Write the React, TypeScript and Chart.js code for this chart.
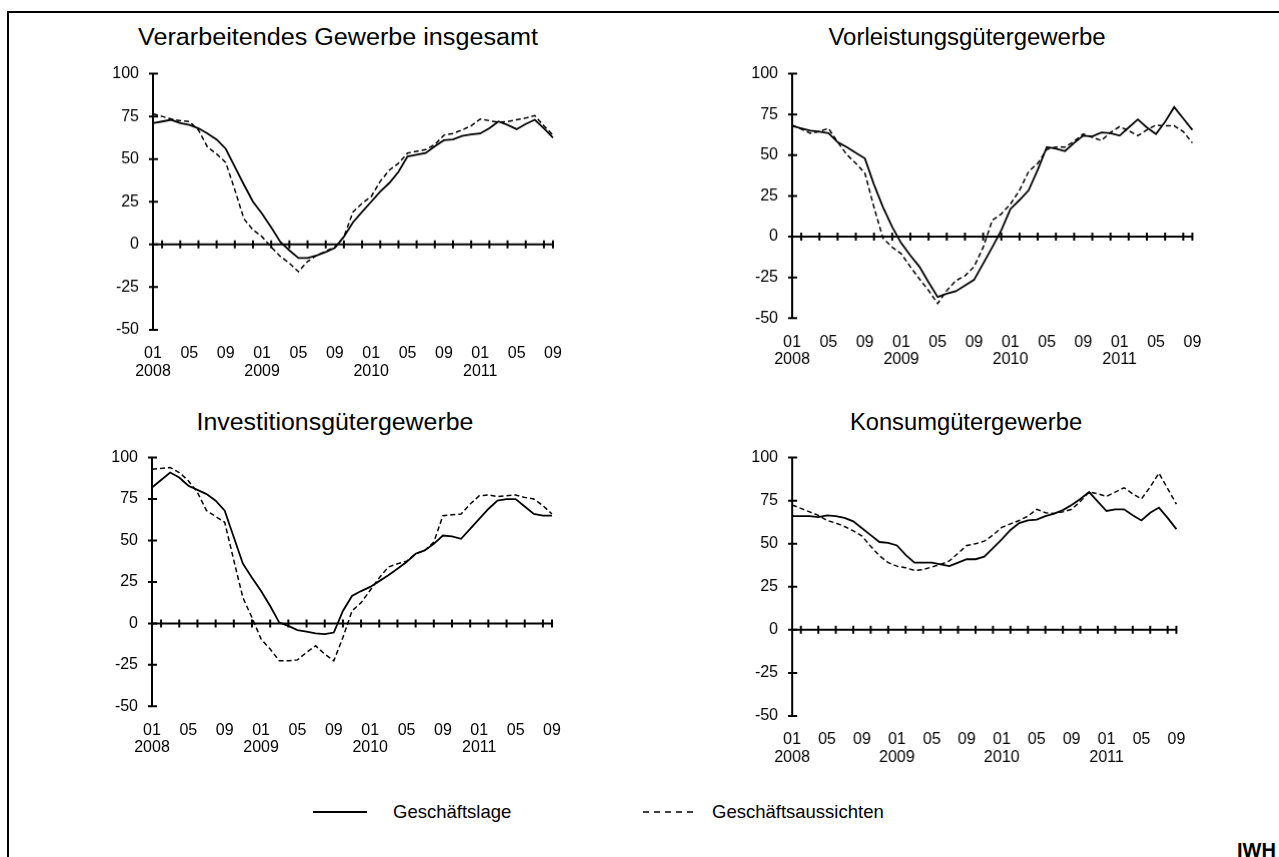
import React, { useEffect, useRef } from "react";
import { Chart, registerables } from "chart.js";

Chart.register(...registerables);

const FONT = "'Liberation Sans', Arial, sans-serif";

// Monthly periods 01/2008 – 09/2011
const periods: string[] = [
  "2008-01", "2008-02", "2008-03", "2008-04", "2008-05", "2008-06", "2008-07", "2008-08", "2008-09", "2008-10", "2008-11", "2008-12",
  "2009-01", "2009-02", "2009-03", "2009-04", "2009-05", "2009-06", "2009-07", "2009-08", "2009-09", "2009-10", "2009-11", "2009-12",
  "2010-01", "2010-02", "2010-03", "2010-04", "2010-05", "2010-06", "2010-07", "2010-08", "2010-09", "2010-10", "2010-11", "2010-12",
  "2011-01", "2011-02", "2011-03", "2011-04", "2011-05", "2011-06", "2011-07", "2011-08", "2011-09",
];
const labelledMonths = ["01", "05", "09"];
const yTickValues = [-50, -25, 0, 25, 50, 75, 100];

const seriesNames = ["Geschäftslage", "Geschäftsaussichten"];
const panelTitles = [
  "Verarbeitendes Gewerbe insgesamt",
  "Vorleistungsgütergewerbe",
  "Investitionsgütergewerbe",
  "Konsumgütergewerbe",
];

// Verarbeitendes Gewerbe insgesamt
const gesamtLage = [71, 72, 73, 71, 70, 68, 65, 61.5, 56, 45.5, 35, 25, 18, 10, 1.5, -3.5, -8, -8, -6.5, -4.5, -2, 4.5, 13, 19, 25, 31, 36, 42.5, 51.5, 52.5, 53.5, 57.5, 61, 61.5, 63.5, 64.5, 65, 68, 72, 70, 67.5, 70.5, 73, 68, 62.5];
const gesamtAussichten = [76.5, 75, 73.5, 72.5, 72, 67, 57, 53, 48, 32, 15, 8.5, 4.5, -1.5, -7, -11, -16, -10, -6.5, -4, -1.5, 4.5, 19, 24, 28, 37, 43.5, 47.5, 53.5, 54.5, 55.5, 58.5, 64, 65, 67, 69.5, 73.5, 72.5, 71.5, 72, 73, 74, 75.5, 69.5, 64];

// Vorleistungsgütergewerbe
const vorleistungLage = [68, 66.5, 65, 64.5, 63.5, 58, 55, 51.5, 48, 32, 18, 6, -4, -11.5, -18.5, -28, -37, -35, -33.5, -30, -26.5, -16.5, -6.5, 4, 17, 22.5, 28.5, 41, 55, 54, 52.5, 57.5, 62, 61.5, 64, 63.5, 62, 67, 72, 67, 63, 70.5, 79.5, 72.5, 65.5];
const vorleistungAussichten = [68.5, 66, 63.5, 64.5, 66.5, 58, 50.5, 45, 39, 18, -1, -6.5, -10.5, -18.5, -26, -33, -41, -33, -27, -24, -18.5, -6.5, 10, 14, 20, 28.5, 40, 45, 53.5, 55, 55, 58.5, 63, 61, 59, 64, 67.5, 65, 62, 65.5, 68.5, 68, 68, 64.5, 57.5];

// Investitionsgütergewerbe
const investitionLage = [82, 86.5, 91, 88, 83, 80.5, 78, 74, 68, 52, 36, 27.5, 19.5, 10.5, 0.5, -1.5, -4, -5, -6, -6.5, -5.5, 7.5, 16.5, 19.5, 22, 25.5, 29, 33, 37, 42, 44, 48, 53, 52.5, 51, 57, 63, 69, 74, 75, 75, 70.5, 66, 65, 65];
const investitionAussichten = [93, 93.5, 94, 91, 86, 79, 68, 64.5, 61, 38, 15.5, 3.5, -9.5, -15.5, -22.5, -22.5, -22, -17.5, -13.5, -18.5, -22.5, -8.5, 7.5, 12.5, 20, 27.5, 34, 36, 37.5, 42, 44, 49, 65, 65.5, 66, 72, 77, 77.5, 76.5, 77, 77.5, 76, 75, 71, 66];

// Konsumgütergewerbe
const konsumLage = [66, 66, 66, 65.5, 66.5, 66, 65, 63, 59, 55, 51, 50.5, 49, 43.5, 39, 39, 39, 38, 37, 39, 41, 41, 42.5, 47.5, 52.5, 58, 62, 63.5, 64, 66, 67.5, 69.5, 72.5, 76, 80, 74.5, 69, 70, 70, 66.5, 63.5, 68, 71, 65, 58.5];
const konsumAussichten = [72.5, 70.5, 68.5, 66.5, 63.5, 62, 60, 57.5, 54.5, 48.5, 43, 39, 37, 36, 34.5, 35, 36.5, 38, 40, 44.5, 49, 50, 51.5, 55, 59.5, 61.5, 63.5, 66, 70, 68, 67.5, 68.5, 70, 74.5, 80, 79, 77.5, 80, 82.5, 79, 76, 83, 91, 82, 73];

type Layout = { axisX: number; endX: number; top: number; bottom: number; titleCx: number; titleBase: number; titleScale: number };

const layouts: Layout[] = [
  { axisX: 153.3, endX: 553.3, top: 74, bottom: 329.3, titleCx: 338.3, titleBase: 46, titleScale: 1.07 },
  { axisX: 792.3, endX: 1191.7, top: 74, bottom: 317.7, titleCx: 966.7, titleBase: 46, titleScale: 1.02 },
  { axisX: 152.3, endX: 552.3, top: 457.3, bottom: 706, titleCx: 335, titleBase: 430.7, titleScale: 1.06 },
  { axisX: 792.3, endX: 1175.7, top: 457.3, bottom: 715.7, titleCx: 965.8, titleBase: 430.7, titleScale: 1.01 },
];

const panelData: [number[], number[]][] = [
  [gesamtLage, gesamtAussichten],
  [vorleistungLage, vorleistungAussichten],
  [investitionLage, investitionAussichten],
  [konsumLage, konsumAussichten],
];

const Y_AXIS_W = 60;
const X_AXIS_H = 55;
const TICK_FONT = 16;
const Y_TICK_PAD = 14;
const TOP_OFFSET = (TICK_FONT * 1.2) / 2 + Y_TICK_PAD; // chart.js reserves half label height + padding
const PAD_RIGHT = 30;

const axisMarks = {
  id: "axisMarks",
  beforeDatasetsDraw(chart: any) {
    const { ctx, scales } = chart;
    const x = scales.x;
    const y = scales.y;
    const y0 = y.getPixelForValue(0);
    const last = periods.length - 1;
    const left = x.getPixelForValue(0);
    ctx.save();
    ctx.strokeStyle = "#000";
    ctx.lineWidth = 2;
    ctx.beginPath();
    ctx.moveTo(left, y0);
    ctx.lineTo(x.getPixelForValue(last), y0);
    ctx.stroke();
    ctx.beginPath();
    for (let i = 1; i < last; i += 2) {
      const px = x.getPixelForValue(i);
      ctx.moveTo(px, y0 - 4);
      ctx.lineTo(px, y0 + 4);
    }
    const pe = x.getPixelForValue(last);
    ctx.moveTo(pe, y0 - 4);
    ctx.lineTo(pe, y0 + 4);
    for (const t of y.ticks) {
      const py = y.getPixelForValue(t.value);
      ctx.moveTo(left - 4, py);
      ctx.lineTo(left + 5, py);
    }
    ctx.stroke();
    ctx.restore();
  },
};

function xLabel(i: number): string | string[] {
  const p = periods[i];
  if (!p) return "";
  const [yr, mo] = p.split("-");
  if (!labelledMonths.includes(mo)) return "";
  return mo === "01" ? [mo, yr] : mo;
}

function Panel({ idx }: { idx: number }) {
  const ref = useRef<HTMLCanvasElement>(null);
  const L = layouts[idx];
  const [lage, auss] = panelData[idx];
  useEffect(() => {
    if (!ref.current) return;
    const chart = new Chart(ref.current, {
      type: "line",
      data: {
        labels: periods,
        datasets: [
          {
            label: seriesNames[0],
            data: lage,
            borderColor: "#000",
            borderWidth: 1.8,
            pointRadius: 0,
            tension: 0,
            fill: false,
          },
          {
            label: seriesNames[1],
            data: auss,
            borderColor: "#000",
            borderWidth: 1.5,
            borderDash: [5, 3],
            pointRadius: 0,
            tension: 0,
            fill: false,
          },
        ],
      },
      options: {
        animation: false,
        responsive: true,
        maintainAspectRatio: false,
        layout: { padding: { top: 0, right: PAD_RIGHT, left: 0, bottom: 0 } },
        plugins: { legend: { display: false }, tooltip: { enabled: false }, title: { display: false } },
        scales: {
          x: {
            type: "category",
            offset: false,
            grid: { display: false, drawTicks: false },
            border: { display: false },
            ticks: {
              autoSkip: false,
              maxRotation: 0,
              minRotation: 0,
              padding: 15,
              color: "#000",
              font: { size: TICK_FONT, family: FONT, lineHeight: 1.1 },
              callback: (_v: any, i: number) => xLabel(i),
            },
            afterFit: (s: any) => {
              s.height = X_AXIS_H;
            },
          },
          y: {
            min: -50,
            max: 100,
            afterBuildTicks: (s: any) => {
              s.ticks = yTickValues.map((v) => ({ value: v }));
            },
            ticks: { padding: Y_TICK_PAD, color: "#000", font: { size: TICK_FONT, family: FONT } },
            grid: { display: false, drawTicks: false },
            border: { display: true, color: "#000", width: 2 },
            afterFit: (s: any) => {
              s.width = Y_AXIS_W;
            },
          },
        },
      } as any,
      plugins: [axisMarks],
    });
    return () => chart.destroy();
  }, [idx]);

  const plotW = L.endX - L.axisX;
  const plotH = L.bottom - L.top;
  const titleSize = 23.5;
  return (
    <>
      <div
        style={{
          position: "absolute",
          left: L.titleCx,
          top: L.titleBase - titleSize * 0.8465,
          transform: `translateX(-50%) scaleX(${L.titleScale})`,
          transformOrigin: "center",
          whiteSpace: "nowrap",
          fontFamily: FONT,
          fontSize: titleSize,
          lineHeight: `${titleSize}px`,
          color: "#000",
        }}
      >
        {panelTitles[idx]}
      </div>
      <div
        style={{
          position: "absolute",
          left: L.axisX - Y_AXIS_W,
          top: L.top - TOP_OFFSET,
          width: Y_AXIS_W + plotW + PAD_RIGHT,
          height: TOP_OFFSET + plotH + X_AXIS_H,
        }}
      >
        <canvas ref={ref} style={{ display: "block" }} />
      </div>
    </>
  );
}

export default function App() {
  const legendSize = 18.5;
  const legendTop = 819 - legendSize * 0.8465;
  return (
    <div style={{ position: "fixed", left: 0, top: 0, right: 0, bottom: 0, overflow: "hidden", background: "#fff" }}>
      <div
        style={{
          position: "absolute",
          left: 7,
          top: 11,
          width: 1400,
          height: 1000,
          borderTop: "2px solid #000",
          borderLeft: "2px solid #000",
        }}
      />
      {layouts.map((_, i) => (
        <Panel key={i} idx={i} />
      ))}
      {/* legend */}
      <div style={{ position: "absolute", left: 313, top: 811, width: 54, height: 2, background: "#000" }} />
      <div
        style={{
          position: "absolute",
          left: 393,
          top: legendTop,
          fontFamily: FONT,
          fontSize: legendSize,
          lineHeight: `${legendSize}px`,
          whiteSpace: "nowrap",
        }}
      >
        {seriesNames[0]}
      </div>
      <svg style={{ position: "absolute", left: 643, top: 806, overflow: "visible" }} width={54} height={12}>
        <line x1={0} y1={6} x2={52} y2={6} stroke="#000" strokeWidth={1.5} strokeDasharray="6 5" />
      </svg>
      <div
        style={{
          position: "absolute",
          left: 712,
          top: legendTop,
          fontFamily: FONT,
          fontSize: legendSize,
          lineHeight: `${legendSize}px`,
          whiteSpace: "nowrap",
        }}
      >
        {seriesNames[1]}
      </div>
      <div
        style={{
          position: "absolute",
          left: 1237,
          top: 840.4,
          fontFamily: FONT,
          fontSize: 20,
          fontWeight: "bold",
          lineHeight: "20px",
          whiteSpace: "nowrap",
        }}
      >
        IWH
      </div>
    </div>
  );
}
